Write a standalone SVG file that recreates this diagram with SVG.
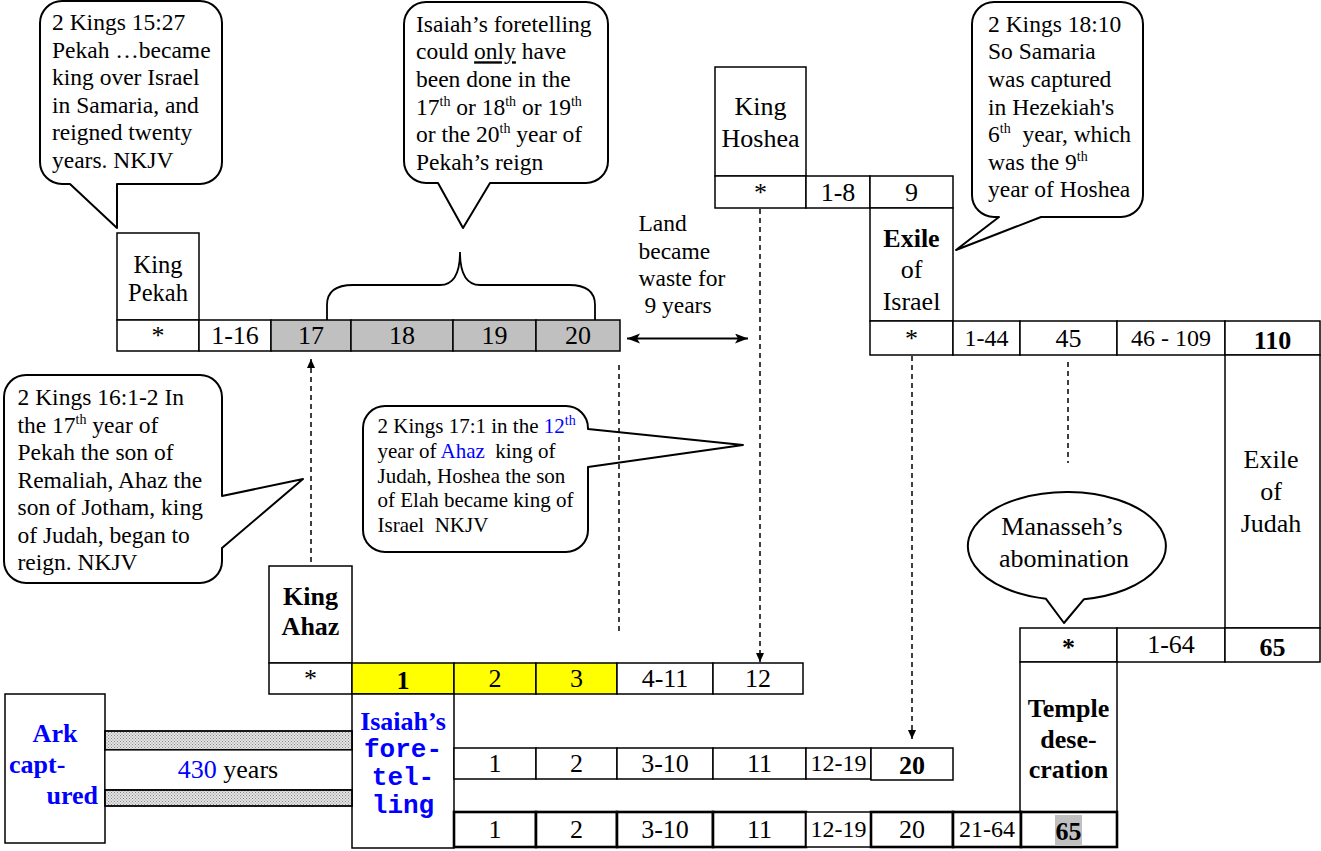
<svg xmlns="http://www.w3.org/2000/svg" width="1321" height="851" viewBox="0 0 1321 851">
<style>
.c{fill:#fff;stroke:#000;stroke-width:1.5}
.k{fill:#fff;stroke:#000;stroke-width:2.6}
.g{fill:#c0c0c0;stroke:#000;stroke-width:1.5}
.y{fill:#ffff00;stroke:#000;stroke-width:1.5}
.bub{fill:#fff;stroke:#000;stroke-width:2;stroke-linejoin:round}
.t{font-family:"Liberation Serif","Times New Roman",serif;font-size:26px;text-anchor:middle;fill:#000}
.s{font-size:24px}
.b{font-weight:bold}
.bl{fill:#0000ff}
.cl{font-family:"Liberation Serif","Times New Roman",serif;font-size:23.5px;fill:#000}
.cs{font-family:"Liberation Serif","Times New Roman",serif;font-size:21px;fill:#000}
.mono{font-family:"Liberation Mono","Courier New",monospace;font-size:26px;font-weight:bold;text-anchor:middle;fill:#0000ff}
.sup{font-size:14px}
.d{fill:none;stroke:#000;stroke-width:1.5;stroke-dasharray:5,4}
.ln{fill:none;stroke:#000;stroke-width:1.8}
</style>
<defs>
<pattern id="dots" width="3" height="3" patternUnits="userSpaceOnUse">
<rect width="3" height="3" fill="#e4e4e4"/>
<rect width="1" height="1" fill="#888"/>
<rect x="1.5" y="1.5" width="1" height="1" fill="#888"/>
</pattern>
<marker id="ah" markerUnits="userSpaceOnUse" markerWidth="10" markerHeight="10" refX="9" refY="4" orient="auto">
<path d="M0,0 L9,4 L0,8 Z" fill="#000"/>
</marker>
<marker id="ah2" markerUnits="userSpaceOnUse" markerWidth="14" markerHeight="12" refX="13" refY="5" orient="auto-start-reverse">
<path d="M0,0 L13,5 L0,10 L3,5 Z" fill="#000"/>
</marker>
</defs>
<rect width="1321" height="851" fill="#fff"/>

<g id="callout-2kings-15-27">
<path class="bub" d="M62,1 H200 A22,22 0 0 1 222,23 V162 A22,22 0 0 1 200,184 H117 V228 L70,184 H62 A22,22 0 0 1 40,162 V23 A22,22 0 0 1 62,1 Z"/>
<text class="cl" x="52" y="30">2 Kings 15:27</text>
<text class="cl" x="52" y="57.5">Pekah …became</text>
<text class="cl" x="52" y="85">king over Israel</text>
<text class="cl" x="52" y="112.5">in Samaria, and</text>
<text class="cl" x="52" y="140">reigned twenty</text>
<text class="cl" x="52" y="167.5">years. NKJV</text>
</g>

<g id="callout-isaiah">
<path class="bub" d="M426,2 H586 A22,22 0 0 1 608,24 V161 A22,22 0 0 1 586,183 H490 L463,228 L438,183 H426 A22,22 0 0 1 404,161 V24 A22,22 0 0 1 426,2 Z"/>
<text class="cl" x="416" y="31.7">Isaiah’s foretelling</text>
<text class="cl" x="416" y="59.3">could <tspan text-decoration="underline">only</tspan> have</text>
<text class="cl" x="416" y="87">been done in the</text>
<text class="cl" x="416" y="114.5">17<tspan class="sup" dy="-9">th</tspan><tspan dy="9"> or 18</tspan><tspan class="sup" dy="-9">th</tspan><tspan dy="9"> or 19</tspan><tspan class="sup" dy="-9">th</tspan></text>
<text class="cl" x="416" y="142">or the 20<tspan class="sup" dy="-9">th</tspan><tspan dy="9"> year of</tspan></text>
<text class="cl" x="416" y="169.7">Pekah’s reign</text>
<path class="ln" d="M327,320 V305 C327,292 335,285 353,285 H440 C452,285 460,276 460,252 C460,276 468,285 480,285 H569 C587,285 595,292 595,305 V320"/>
</g>

<g id="callout-2kings-18-10">
<path class="bub" d="M994,2 H1121 A22,22 0 0 1 1143,24 V195 A22,22 0 0 1 1121,217 H1041 L956,250 L999,217 H994 A22,22 0 0 1 972,195 V24 A22,22 0 0 1 994,2 Z"/>
<text class="cl" x="988" y="31.7">2 Kings 18:10</text>
<text class="cl" x="988" y="59.3">So Samaria</text>
<text class="cl" x="988" y="87">was captured</text>
<text class="cl" x="988" y="114.5">in Hezekiah's</text>
<text class="cl" x="988" y="142">6<tspan class="sup" dy="-9">th</tspan><tspan dy="9">&#160; year, which</tspan></text>
<text class="cl" x="988" y="169.7">was the 9<tspan class="sup" dy="-9">th</tspan></text>
<text class="cl" x="988" y="197.3">year of Hoshea</text>
</g>

<g id="callout-2kings-16-1">
<path class="bub" d="M26,375 H200 A22,22 0 0 1 222,397 V496 L303,479 L222,548 V561 A22,22 0 0 1 200,583 H26 A22,22 0 0 1 4,561 V397 A22,22 0 0 1 26,375 Z"/>
<text class="cl" x="17.5" y="405">2 Kings 16:1-2 In</text>
<text class="cl" x="17.5" y="432.7">the 17<tspan class="sup" dy="-9">th</tspan><tspan dy="9"> year of</tspan></text>
<text class="cl" x="17.5" y="460">Pekah the son of</text>
<text class="cl" x="17.5" y="487.7">Remaliah, Ahaz the</text>
<text class="cl" x="17.5" y="515">son of Jotham, king</text>
<text class="cl" x="17.5" y="542.7">of Judah, began to</text>
<text class="cl" x="17.5" y="570">reign. NKJV</text>
</g>

<g id="callout-2kings-17-1">
<path class="bub" d="M385,406 H566 A22,22 0 0 1 588,428 V429 L743,445 L588,467 V530 A22,22 0 0 1 566,552 H385 A22,22 0 0 1 363,530 V428 A22,22 0 0 1 385,406 Z"/>
<text class="cs" x="377.5" y="433.3">2 Kings 17:1 in the <tspan class="bl">12</tspan><tspan class="bl sup" dy="-8">th</tspan></text>
<text class="cs" x="377.5" y="458">year of <tspan class="bl">Ahaz</tspan>&#160; king of</text>
<text class="cs" x="377.5" y="482.7">Judah, Hoshea the son</text>
<text class="cs" x="377.5" y="507.3">of Elah became king of</text>
<text class="cs" x="377.5" y="531.7">Israel&#160; NKJV</text>
</g>

<g id="callout-manasseh">
<path class="bub" d="M1046,598.8 A99,54 0 1 1 1084,599.2 L1064,623 Z"/>
<text class="t" x="1062" y="535">Manasseh’s</text>
<text class="t" x="1064" y="566.7">abomination</text>
</g>

<g id="land-waste">
<text class="cl" x="638.5" y="230.7">Land</text>
<text class="cl" x="638.5" y="259">became</text>
<text class="cl" x="638.5" y="286">waste for</text>
<text class="cl" x="638.5" y="313">&#160;9 years</text>
</g>

<g id="king-pekah">
<rect class="c" x="117" y="233" width="82" height="87"/>
<text class="t" x="158" y="273" style="font-size:24.5px">King</text>
<text class="t" x="158" y="301" style="font-size:24.5px">Pekah</text>
<rect class="c" x="117" y="320" width="82" height="31"/>
<text class="t" x="158" y="344">*</text>
<rect class="c" x="199" y="320" width="72" height="31"/>
<text class="t" x="235" y="344">1-16</text>
<rect class="g" x="271" y="320" width="80" height="31" stroke-width="2"/>
<text class="t" x="311" y="344">17</text>
<rect class="g" x="351" y="320" width="102" height="31"/>
<text class="t" x="402" y="344">18</text>
<rect class="g" x="453" y="320" width="83" height="31"/>
<text class="t" x="494.5" y="344">19</text>
<rect class="g" x="536" y="320" width="84" height="31"/>
<text class="t" x="578" y="344">20</text>
</g>

<g id="king-hoshea">
<rect class="c" x="715" y="67" width="91" height="109"/>
<text class="t" x="760.5" y="115">King</text>
<text class="t" x="760.5" y="146.7">Hoshea</text>
<rect class="c" x="715" y="176" width="91" height="32"/>
<text class="t" x="760.5" y="201">*</text>
<rect class="c" x="806" y="176" width="64" height="32"/>
<text class="t" x="838" y="201">1-8</text>
<rect class="c" x="870" y="176" width="83" height="32"/>
<text class="t" x="911.5" y="201">9</text>
</g>

<g id="exile-israel">
<rect class="c" x="870" y="208" width="83" height="113"/>
<text class="t b" x="911.5" y="246.7">Exile</text>
<text class="t" x="911.5" y="278">of</text>
<text class="t" x="911.5" y="310">Israel</text>
<rect class="c" x="870" y="321" width="83" height="34"/>
<text class="t" x="911.5" y="347">*</text>
<rect class="c" x="953" y="321" width="67" height="34"/>
<text class="t s" x="986.5" y="346">1-44</text>
<rect class="c" x="1020" y="321" width="97" height="34"/>
<text class="t" x="1068.5" y="347">45</text>
<rect class="c" x="1117" y="321" width="108" height="34"/>
<text class="t s" x="1171" y="346">46 - 109</text>
<rect class="c" x="1225" y="321" width="95" height="34" stroke-width="2"/>
<text class="t b" x="1272.5" y="349">110</text>
</g>

<g id="exile-judah">
<rect class="c" x="1225" y="355" width="95" height="273"/>
<text class="t" x="1271" y="468">Exile</text>
<text class="t" x="1271" y="500">of</text>
<text class="t" x="1271" y="531.7">Judah</text>
</g>

<g id="manasseh-row">
<rect class="c" x="1020" y="628" width="97" height="34"/>
<text class="t b" x="1068.5" y="656">*</text>
<rect class="c" x="1117" y="628" width="108" height="34"/>
<text class="t" x="1171" y="653">1-64</text>
<rect class="c" x="1225" y="628" width="95" height="34"/>
<text class="t b" x="1272.5" y="656">65</text>
</g>

<g id="temple-desecration">
<rect class="c" x="1020" y="662" width="97" height="150"/>
<text class="t b" x="1068.5" y="716.7">Temple</text>
<text class="t b" x="1068.5" y="748.3">dese-</text>
<text class="t b" x="1068.5" y="778.3">cration</text>
</g>

<g id="king-ahaz">
<rect class="c" x="269" y="566" width="83" height="97"/>
<text class="t b" x="310.5" y="605">King</text>
<text class="t b" x="310.5" y="635">Ahaz</text>
<rect class="c" x="269" y="663" width="83" height="31"/>
<text class="t" x="310.5" y="687">*</text>
<rect class="y" x="352" y="663" width="102" height="31" stroke-width="2.5"/>
<text class="t b" x="403" y="689">1</text>
<rect class="y" x="454" y="663" width="82" height="31"/>
<text class="t" x="495" y="687">2</text>
<rect class="y" x="536" y="663" width="81" height="31"/>
<text class="t" x="576.5" y="687">3</text>
<rect class="c" x="617" y="663" width="96" height="31"/>
<text class="t" x="665" y="687">4-11</text>
<rect class="c" x="713" y="663" width="90" height="31"/>
<text class="t" x="758" y="687">12</text>
</g>

<g id="isaiah-foretelling">
<rect class="c" x="352" y="694" width="102" height="154"/>
<text class="t b bl" x="403" y="730">Isaiah’s</text>
<text class="mono" x="403" y="757">fore-</text>
<text class="mono" x="403" y="785">tel-</text>
<text class="mono" x="403" y="813">ling</text>
</g>

<g id="judah-row-1">
<rect class="c" x="454" y="748" width="82" height="31"/>
<text class="t" x="495" y="772">1</text>
<rect class="c" x="536" y="748" width="81" height="31"/>
<text class="t" x="576.5" y="772">2</text>
<rect class="c" x="617" y="748" width="96" height="31"/>
<text class="t" x="665" y="772">3-10</text>
<rect class="c" x="713" y="748" width="93" height="31"/>
<text class="t" x="759.5" y="772">11</text>
<rect class="c" x="806" y="748" width="65" height="31"/>
<text class="t s" x="838.5" y="771">12-19</text>
<rect class="c" x="871" y="748" width="82" height="32"/>
<text class="t b" x="912" y="774">20</text>
</g>

<g id="judah-row-2">
<rect class="k" x="454" y="812" width="82" height="35"/>
<text class="t" x="495" y="838">1</text>
<rect class="k" x="536" y="812" width="81" height="35"/>
<text class="t" x="576.5" y="838">2</text>
<rect class="k" x="617" y="812" width="96" height="35"/>
<text class="t" x="665" y="838">3-10</text>
<rect class="k" x="713" y="812" width="93" height="35"/>
<text class="t" x="759.5" y="838">11</text>
<rect class="c" x="806" y="812" width="65" height="35"/>
<text class="t s" x="838.5" y="837">12-19</text>
<rect class="k" x="871" y="812" width="82" height="35"/>
<text class="t" x="912" y="838">20</text>
<rect class="k" x="953" y="812" width="68" height="35"/>
<text class="t s" x="987" y="837">21-64</text>
<rect class="k" x="1021" y="812" width="96" height="35"/>
<rect x="1055" y="815" width="27" height="31" fill="#c0c0c0"/>
<text class="t b" x="1068.5" y="840">65</text>
</g>

<g id="ark-captured">
<rect class="c" x="5" y="694" width="100" height="149"/>
<text class="t b bl" x="55" y="742">Ark</text>
<text class="t b bl" x="9" y="773" style="text-anchor:start">capt-</text>
<text class="t b bl" x="98" y="804" style="text-anchor:end">ured</text>
</g>

<g id="span-430-years">
<rect x="105" y="731" width="247" height="19" fill="url(#dots)" stroke="#000" stroke-width="1.8"/>
<rect x="105" y="750" width="247" height="40" fill="#fff" stroke="#000" stroke-width="1.2"/>
<rect x="105" y="790" width="247" height="16" fill="url(#dots)" stroke="#000" stroke-width="1.8"/>
<text class="t" x="228" y="778"><tspan class="bl">430</tspan> years</text>
</g>

<g id="connectors">
<line class="d" x1="311" y1="562" x2="311" y2="359" marker-end="url(#ah)"/>
<line class="d" x1="619" y1="365" x2="619" y2="633"/>
<line class="d" x1="760" y1="209" x2="760" y2="662" marker-end="url(#ah)"/>
<line class="d" x1="912" y1="356" x2="912" y2="739" marker-end="url(#ah)"/>
<line class="d" x1="1068" y1="362" x2="1068" y2="463"/>
<line x1="627" y1="338.5" x2="748" y2="338.5" stroke="#000" stroke-width="1.8" marker-start="url(#ah2)" marker-end="url(#ah2)"/>
</g>
</svg>
